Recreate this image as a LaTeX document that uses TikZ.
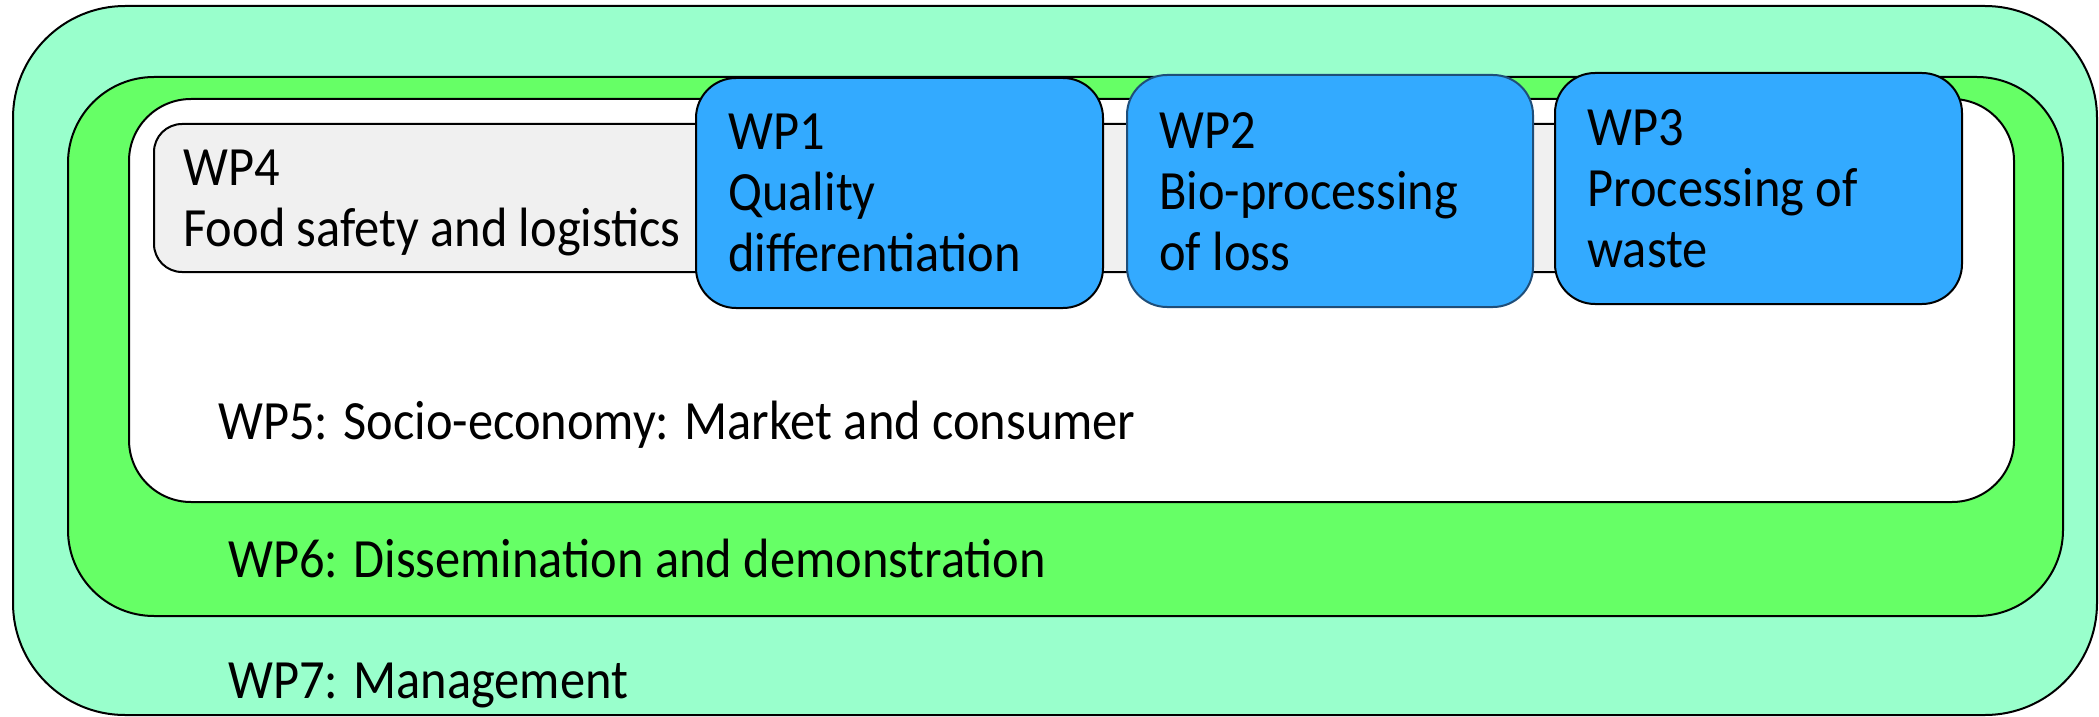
\documentclass[tikz,border=0pt]{standalone}
\usepackage{fontspec}
\setmainfont[FakeStretch=0.91]{Carlito}
\definecolor{mint}{HTML}{99FFCC}
\definecolor{wpgreen}{HTML}{66FF66}
\definecolor{wpgray}{HTML}{F0F0F0}
\definecolor{wpblue}{HTML}{33AAFF}
\definecolor{navy}{HTML}{1F4E79}
\tikzset{
  band/.style={draw=black, line width=1pt},
  wptext/.style={inner sep=0pt, font=\fontsize{27.7pt}{30.5pt}\selectfont, align=left, text=black},
}
\begin{document}
\begin{tikzpicture}[x=0.5pt, y=-0.5pt]
\useasboundingbox (0,0) rectangle (2099,717);
% WP7 outer
\draw[band, fill=mint, rounded corners=56pt] (13,6) rectangle (2097,715);
% WP6
\draw[band, fill=wpgreen, rounded corners=43pt] (68,77) rectangle (2063,616);
% WP5
\draw[band, fill=white, rounded corners=31pt] (129,99) rectangle (2014,502);
% WP4
\draw[band, fill=wpgray, rounded corners=14pt] (154,124) rectangle (1620,272);
% WP1, WP2, WP3
\draw[band, fill=wpblue, rounded corners=20pt] (696,78) rectangle (1103,308);
\draw[band, draw=navy, fill=wpblue, rounded corners=20pt] (1127,75) rectangle (1533,307);
\draw[band, fill=wpblue, rounded corners=20pt] (1555,73) rectangle (1962,304);
% texts
\node[wptext, anchor=north west] (t4) at (183,150) {WP4\\Food safety and logistics};
\node[wptext, anchor=north west] (t1) at (728,113) {WP1\\Quality\\differentiation};
\node[wptext, anchor=north west] (t2) at (1159,112) {WP2\\Bio-processing\\of loss};
\node[wptext, anchor=north west] (t3) at (1587,109) {WP3\\Processing of\\waste};
\node[wptext, anchor=base west] (t5) at (218,439) {WP5: Socio-economy: Market and consumer};
\node[wptext, anchor=base west] (t6) at (228,577) {WP6: Dissemination and demonstration};
\node[wptext, anchor=base west] (t7) at (228,698) {WP7: Management};
\end{tikzpicture}
\end{document}
